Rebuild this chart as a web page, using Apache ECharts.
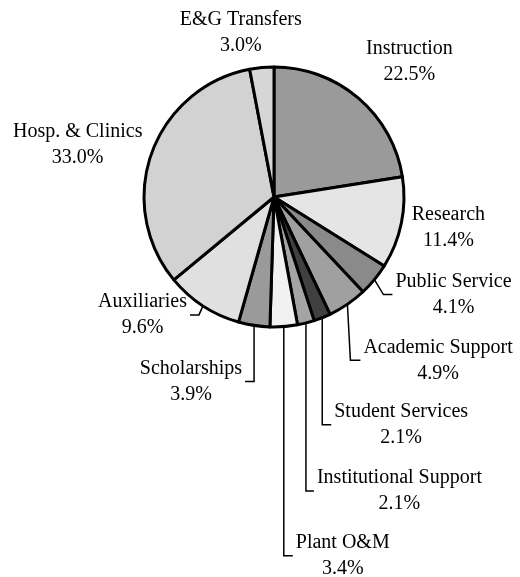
<!DOCTYPE html>
<html><head><meta charset="utf-8">
<script src="https://cdn.jsdelivr.net/npm/echarts@6/dist/echarts.min.js"></script>
<style>html,body{margin:0;padding:0;background:#fff}#c{width:520px;height:577px}</style>
</head><body><div id="c"></div>
<script>
// ---- data ----
const categories = ['Instruction','Research','Public Service','Academic Support','Student Services','Institutional Support','Plant O&M','Scholarships','Auxiliaries','Hosp. & Clinics','E&G Transfers'];
const shares = [22.5, 11.4, 4.1, 4.9, 2.1, 2.1, 3.4, 3.9, 9.6, 33.0, 3.0];
const sliceColors = ['#9a9a9a','#e5e5e5','#8a8a8a','#a0a0a0','#404040','#a4a4a4','#f1f1f1','#9a9a9a','#e0e0e0','#d2d2d2','#d6d6d6'];

// ---- label layout (relative to each slice's edge anchor) ----
const labelSpec = [
  {off:[51,-36]},
  {off:[47,5]},
  {bend:[9,15], run:9},
  {bend:[3,56], run:10},
  {bend:[0,107], run:9},
  {bend:[0,168], run:8},
  {bend:[0,229], run:9},
  {bend:[0,56], run:-9},
  {bend:[-4,9], run:-9},
  {off:[-74,-8]},
  {off:[-21,-35]}
];

const CX = 274, CY = 197, R = 130;
const FONT = 'Liberation Serif';
const FS = 20;

const total = shares.reduce((a,b)=>a+b,0);
const anchors = [];
let acc = 0;
shares.forEach(v => {
  const mid = (acc + v/2) / total * Math.PI * 2;
  anchors.push([CX + R*Math.sin(mid), CY - R*Math.cos(mid)]);
  acc += v;
});
const labelTexts = categories.map((c,i)=> c + '\n' + shares[i].toFixed(1) + '%');
const mctx = document.createElement('canvas').getContext('2d');
mctx.font = FS + 'px "' + FONT + '"';
const textW = labelTexts.map(t => Math.max(...t.split('\n').map(s => mctx.measureText(s).width)));

const chart = echarts.init(document.getElementById('c'), null, {renderer:'canvas'});
chart.setOption({
  animation: false,
  backgroundColor: '#fff',
  series: [{
    type: 'pie',
    center: [CX, CY],
    radius: R,
    startAngle: 90,
    clockwise: true,
    avoidLabelOverlap: false,
    silent: true,
    itemStyle: {borderColor:'#000', borderWidth:3},
    label: {
      show: true, position: 'outside', overflow: 'none',
      fontFamily: FONT, fontSize: FS, color: '#000', lineHeight: 26,
      formatter: p => labelTexts[p.dataIndex]
    },
    labelLine: {show: true, lineStyle: {color:'#000', width:1.5}},
    labelLayout: function (params) {
      const i = params.dataIndex;
      const s = labelSpec[i];
      const a = anchors[i];
      if (s.off) {
        return {x: a[0] + s.off[0], y: a[1] + s.off[1], align: 'center', verticalAlign: 'middle'};
      }
      const bx = a[0] + s.bend[0], by = a[1] + s.bend[1];
      const ex = bx + s.run;
      const dir = s.run >= 0 ? 1 : -1;
      const lx = ex + dir * (3 + textW[i]/2);
      return {
        x: lx, y: by, align: 'center', verticalAlign: 'middle',
        labelLinePoints: [[a[0], a[1]], [bx, by], [ex, by]]
      };
    },
    data: categories.map((c,i) => ({
      name: c, value: shares[i],
      itemStyle: {color: sliceColors[i]},
      labelLine: {show: !labelSpec[i].off}
    }))
  }]
});
</script>
</body></html>
